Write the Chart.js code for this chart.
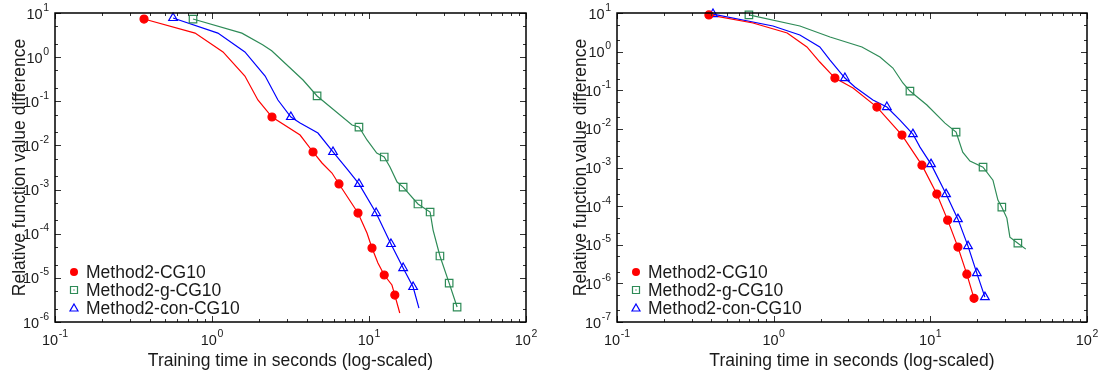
<!DOCTYPE html>
<html>
<head>
<meta charset="utf-8">
<script src="https://cdn.jsdelivr.net/npm/chart.js@4.4.1/dist/chart.umd.min.js"></script>
<style>
    html, body { margin: 0; padding: 0; background: #fff; }
    #wrap { position: relative; width: 1104px; height: 376px; }
    canvas { position: absolute; top: 0; }
    #leftChart { left: 0; }
    #rightChart { left: 552px; }
</style>
</head>
<body>
<div id="wrap">
    <canvas id="leftChart" width="552" height="376"></canvas>
    <canvas id="rightChart" width="552" height="376"></canvas>
</div>
<script>
// Series labels
const seriesLabels = ['Method2-CG10', 'Method2-g-CG10', 'Method2-con-CG10'];

// Left panel - training time (s) / relative function value difference
const leftRedT = [0.369, 0.78, 1.175, 1.62, 1.96, 2.41, 3.64, 4.40, 5.02, 5.81, 6.44, 8.51, 9.71, 10.45, 11.4, 12.5, 14.0, 14.6, 15.7];
const leftRedV = [7.3, 3.5, 1.31, 0.374, 0.107, 0.044, 0.0172, 0.0071, 0.0040, 0.00237, 0.00134, 2.94e-4, 1.04e-4, 4.74e-5, 2.17e-5, 1.16e-5, 6.9e-6, 4.08e-6, 1.6e-6];
const leftRedMarks = [0, 5, 7, 10, 11, 13, 15, 17];

const leftGreenT = [0.757, 1.55, 2.1, 2.4, 3.80, 4.67, 7.80, 8.63, 9.71, 11.2, 12.5, 13.6, 15.1, 16.5, 20.5, 24.5, 25.6, 28.3, 32.4, 36.4];
const leftGreenV = [7.3, 3.5, 1.9, 1.4, 0.303, 0.132, 0.029, 0.0261, 0.0133, 0.0067, 0.00547, 0.00324, 0.00148, 0.00114, 4.71e-4, 3.1e-4, 1.21e-4, 3.13e-5, 7.6e-6, 2.18e-6];
const leftGreenMarks = [0, 5, 7, 10, 13, 14, 15, 17, 18, 19];

const leftBlueT = [0.565, 1.09, 1.62, 2.18, 2.63, 3.18, 3.64, 4.73, 5.90, 7.35, 8.63, 11.1, 13.8, 16.5, 19.1, 20.8];
const leftBlueV = [7.7, 3.5, 1.31, 0.374, 0.107, 0.044, 0.0322, 0.0191, 0.0071, 0.00277, 0.00134, 2.94e-4, 5.85e-5, 1.67e-5, 6.2e-6, 2.07e-6];
const leftBlueMarks = [0, 5, 8, 10, 11, 12, 13, 14];

// Right panel
const rightRedT = [0.386, 0.738, 1.22, 1.63, 1.97, 2.46, 3.21, 4.56, 6.59, 8.84, 11.0, 12.9, 15.0, 17.1, 19.0];
const rightRedV = [8.9, 5.5, 3.03, 1.32, 0.538, 0.207, 0.114, 0.0367, 0.0069, 0.00115, 2.05e-4, 4.34e-5, 8.7e-6, 1.73e-6, 4.1e-7];
const rightRedMarks = [0, 5, 7, 8, 9, 10, 11, 12, 13, 14];

const rightGreenT = [0.695, 1.47, 2.29, 3.66, 4.77, 5.77, 6.68, 7.41, 9.51, 12.4, 14.6, 16.1, 17.9, 21.7, 25.1, 27.0, 28.6, 30.8, 32.2, 36.2, 40.7];
const rightGreenV = [8.9, 4.6, 2.39, 1.32, 0.725, 0.376, 0.154, 0.0953, 0.0414, 0.0141, 0.00826, 0.0025, 0.00147, 0.00102, 4.7e-4, 1.43e-4, 9.4e-5, 4.9e-5, 1.57e-5, 1.1e-5, 7.7e-6];
const rightGreenMarks = [0, 7, 10, 13, 16, 19];

const rightBlueT = [0.41, 0.99, 1.47, 1.97, 2.29, 2.85, 3.30, 4.30, 5.28, 6.40, 7.74, 8.59, 10.1, 12.6, 15.0, 17.4, 19.8, 22.3];
const rightBlueV = [9.4, 4.6, 2.69, 1.32, 0.606, 0.207, 0.121, 0.0557, 0.0367, 0.0169, 0.00733, 0.00337, 0.00122, 2.05e-4, 4.6e-5, 9.2e-6, 1.84e-6, 4.4e-7];
const rightBlueMarks = [0, 5, 8, 10, 12, 13, 14, 15, 16, 17];

// Axis ranges (decade exponents)
const xExpRange = [-1, 2];
const leftYExpRange = [-6, 1];
const rightYExpRange = [-7, 1];

const FONT = '"Liberation Sans", Arial, Helvetica, sans-serif';
const TEXT = '#1a1a1a';

const STYLES = [
    { color: '#ff0000', pointStyle: 'circle', radius: 4, fill: '#ff0000' },
    { color: '#2e8b57', pointStyle: 'rect', radius: 5.3, fill: 'rgba(0,0,0,0)' },
    { color: '#0000ff', pointStyle: 'triangle', radius: 5, fill: 'rgba(0,0,0,0)' }
];

function toPoints(ts, vs) {
    return ts.map((t, i) => ({ x: t, y: vs[i] }));
}

function pick(ts, vs, idx) {
    return idx.map(i => ({ x: ts[i], y: vs[i] }));
}

// "10" with a raised exponent, y = baseline of "10"
function drawPow10(ctx, exp, x, y, align) {
    const base = '10';
    const sup = String(exp);
    ctx.font = '14.5px ' + FONT;
    const w1 = ctx.measureText(base).width;
    ctx.font = '10.5px ' + FONT;
    const w2 = ctx.measureText(sup).width;
    const total = w1 + 0.5 + w2;
    const start = align === 'right' ? x - total : x - total / 2;
    ctx.textAlign = 'left';
    ctx.textBaseline = 'alphabetic';
    ctx.font = '14.5px ' + FONT;
    ctx.fillText(base, start, y);
    ctx.font = '10.5px ' + FONT;
    ctx.fillText(sup, start + w1 + 0.5, y - 8);
}

function drawMark(ctx, style, x, y) {
    ctx.strokeStyle = style.color;
    ctx.fillStyle = style.color;
    ctx.lineWidth = 1.2;
    ctx.beginPath();
    if (style.pointStyle === 'circle') {
        ctx.arc(x, y, 4, 0, Math.PI * 2);
        ctx.fill();
    } else if (style.pointStyle === 'rect') {
        ctx.rect(x - 3.5, y - 3.5, 7, 7);
        ctx.stroke();
        ctx.fillRect(x - 0.6, y - 0.6, 1.2, 1.2);
    } else {
        ctx.moveTo(x, y - 4);
        ctx.lineTo(x + 4, y + 3);
        ctx.lineTo(x - 4, y + 3);
        ctx.closePath();
        ctx.stroke();
    }
}

// Frame, inward log ticks, labels, titles and legend
const logFramePlugin = {
    id: 'logFrame',
    afterDatasetsDraw(chart, args, opts) {
        const { ctx, chartArea: a, scales } = chart;
        const xs = scales.x, ys = scales.y;
        ctx.save();

        ctx.strokeStyle = '#333';
        ctx.lineWidth = 1;
        ctx.beginPath();
        for (let e = opts.xExp[0]; e <= opts.xExp[1]; e++) {
            for (let m = 1; m <= 9; m++) {
                if (e === opts.xExp[1] && m > 1) break;
                const px = Math.round(xs.getPixelForValue(m * Math.pow(10, e))) + 0.5;
                const len = m === 1 ? 6 : 3;
                ctx.moveTo(px, a.bottom); ctx.lineTo(px, a.bottom - len);
                ctx.moveTo(px, a.top); ctx.lineTo(px, a.top + len);
            }
        }
        for (let e = opts.yExp[0]; e <= opts.yExp[1]; e++) {
            [1, 2, 5].forEach(m => {
                if (e === opts.yExp[1] && m > 1) return;
                const py = Math.round(ys.getPixelForValue(m * Math.pow(10, e))) + 0.5;
                const len = m === 1 ? 6 : 3;
                ctx.moveTo(a.left, py); ctx.lineTo(a.left + len, py);
                ctx.moveTo(a.right, py); ctx.lineTo(a.right - len, py);
            });
        }
        ctx.stroke();

        ctx.strokeStyle = '#000';
        ctx.lineWidth = 1.5;
        ctx.strokeRect(a.left, a.top, a.right - a.left, a.bottom - a.top);

        ctx.fillStyle = TEXT;
        for (let e = opts.xExp[0]; e <= opts.xExp[1]; e++) {
            drawPow10(ctx, e, xs.getPixelForValue(Math.pow(10, e)), a.bottom + 23, 'center');
        }
        for (let e = opts.yExp[0]; e <= opts.yExp[1]; e++) {
            drawPow10(ctx, e, a.left - 6, ys.getPixelForValue(Math.pow(10, e)) + 5.5, 'right');
        }

        ctx.font = '17.5px ' + FONT;
        ctx.textAlign = 'center';
        ctx.textBaseline = 'alphabetic';
        ctx.fillText(opts.xTitle, (a.left + a.right) / 2, a.bottom + 44);
        ctx.save();
        ctx.translate(opts.yTitleX, (a.top + a.bottom) / 2);
        ctx.rotate(-Math.PI / 2);
        ctx.fillText(opts.yTitle, 0, 0);
        ctx.restore();

        // legend
        const marks = chart.data.datasets.filter(d => d.legendStyle);
        marks.forEach((d, i) => {
            const y = opts.legendY + i * 18;
            drawMark(ctx, d.legendStyle, a.left + opts.legendDx, y);
            ctx.fillStyle = TEXT;
            ctx.font = '17.5px ' + FONT;
            ctx.textAlign = 'left';
            ctx.textBaseline = 'alphabetic';
            ctx.fillText(d.label, a.left + opts.legendDx + 12, y + 6);
        });
        ctx.restore();
    }
};

const Charts = {
    instances: {},

    render(canvasId, series, yExp, layout) {
        const canvas = document.getElementById(canvasId);
        if (!canvas) {
            console.error(`[Charts] Canvas not found: ${canvasId}`);
            return;
        }
        const lines = [];
        const marks = [];
        series.forEach((s, i) => {
            const st = STYLES[i];
            lines.push({
                label: '',
                data: toPoints(s.t, s.v),
                borderColor: st.color,
                borderWidth: 1.2,
                pointRadius: 0,
                tension: 0,
                fill: false
            });
            marks.push({
                label: seriesLabels[i],
                legendStyle: st,
                data: pick(s.t, s.v, s.marks),
                showLine: false,
                pointStyle: st.pointStyle,
                pointRadius: st.radius,
                pointBorderWidth: 1.2,
                pointBorderColor: st.color,
                pointBackgroundColor: st.fill,
                clip: false
            });
        });

        this.instances[canvasId] = new Chart(canvas.getContext('2d'), {
            type: 'line',
            data: { datasets: marks.concat(lines) },
            options: {
                responsive: false,
                devicePixelRatio: 1,
                animation: false,
                layout: { padding: layout.padding },
                plugins: {
                    legend: { display: false },
                    tooltip: { enabled: false },
                    logFrame: {
                        xExp: xExpRange,
                        yExp: yExp,
                        xTitle: 'Training time in seconds (log-scaled)',
                        yTitle: 'Relative function value difference',
                        yTitleX: layout.yTitleX,
                        legendDx: layout.legendDx,
                        legendY: 272
                    }
                },
                scales: {
                    x: {
                        type: 'logarithmic',
                        display: false,
                        min: Math.pow(10, xExpRange[0]),
                        max: Math.pow(10, xExpRange[1])
                    },
                    y: {
                        type: 'logarithmic',
                        display: false,
                        min: Math.pow(10, yExp[0]),
                        max: Math.pow(10, yExp[1])
                    }
                }
            },
            plugins: [logFramePlugin]
        });
    }
};

Charts.render('leftChart', [
    { t: leftRedT, v: leftRedV, marks: leftRedMarks },
    { t: leftGreenT, v: leftGreenV, marks: leftGreenMarks },
    { t: leftBlueT, v: leftBlueV, marks: leftBlueMarks }
], leftYExpRange, { padding: { left: 55, top: 13, right: 26, bottom: 54 }, yTitleX: 25, legendDx: 19 });

Charts.render('rightChart', [
    { t: rightRedT, v: rightRedV, marks: rightRedMarks },
    { t: rightGreenT, v: rightGreenV, marks: rightGreenMarks },
    { t: rightBlueT, v: rightBlueV, marks: rightBlueMarks }
], rightYExpRange, { padding: { left: 65, top: 13, right: 17, bottom: 54 }, yTitleX: 34, legendDx: 19 });
</script>
</body>
</html>
